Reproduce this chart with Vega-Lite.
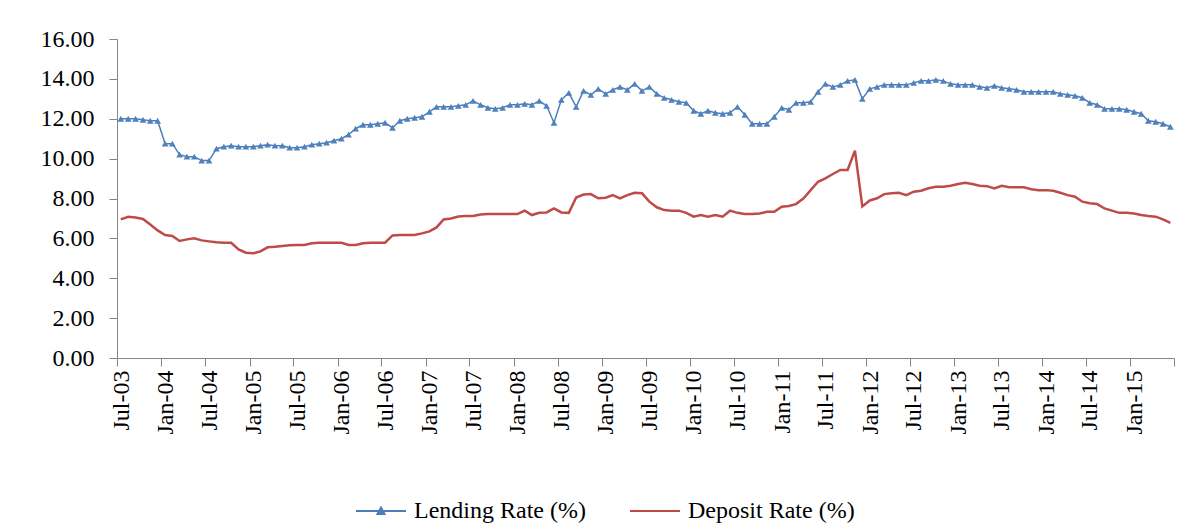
{
  "$schema": "https://vega.github.io/schema/vega-lite/v6.json",
  "width": 1057,
  "height": 319,
  "autosize": {"type": "none"},
  "padding": {"left": 117, "top": 39, "right": 17, "bottom": 173},
  "background": "white",
  "config": {
    "view": {"stroke": null},
    "font": "Liberation Serif",
    "axis": {
      "domainColor": "#868686",
      "tickColor": "#868686",
      "domainWidth": 1,
      "tickWidth": 1,
      "labelColor": "#000000",
      "labelFont": "Liberation Serif",
      "labelFontSize": 24,
      "grid": false,
      "title": null
    }
  },
  "data": {
    "values": [
      {"month": "2003-07", "lending": 12.00, "deposit": 6.95},
      {"month": "2003-08", "lending": 12.00, "deposit": 7.08},
      {"month": "2003-09", "lending": 12.00, "deposit": 7.05},
      {"month": "2003-10", "lending": 11.95, "deposit": 6.97},
      {"month": "2003-11", "lending": 11.90, "deposit": 6.70},
      {"month": "2003-12", "lending": 11.90, "deposit": 6.40},
      {"month": "2004-01", "lending": 10.75, "deposit": 6.17},
      {"month": "2004-02", "lending": 10.75, "deposit": 6.12},
      {"month": "2004-03", "lending": 10.20, "deposit": 5.87},
      {"month": "2004-04", "lending": 10.10, "deposit": 5.95},
      {"month": "2004-05", "lending": 10.10, "deposit": 6.00},
      {"month": "2004-06", "lending": 9.90, "deposit": 5.90},
      {"month": "2004-07", "lending": 9.90, "deposit": 5.85},
      {"month": "2004-08", "lending": 10.50, "deposit": 5.80},
      {"month": "2004-09", "lending": 10.60, "deposit": 5.78},
      {"month": "2004-10", "lending": 10.65, "deposit": 5.78},
      {"month": "2004-11", "lending": 10.60, "deposit": 5.45},
      {"month": "2004-12", "lending": 10.60, "deposit": 5.28},
      {"month": "2005-01", "lending": 10.60, "deposit": 5.25},
      {"month": "2005-02", "lending": 10.65, "deposit": 5.35},
      {"month": "2005-03", "lending": 10.70, "deposit": 5.55},
      {"month": "2005-04", "lending": 10.65, "deposit": 5.58},
      {"month": "2005-05", "lending": 10.65, "deposit": 5.62},
      {"month": "2005-06", "lending": 10.55, "deposit": 5.65},
      {"month": "2005-07", "lending": 10.55, "deposit": 5.67},
      {"month": "2005-08", "lending": 10.60, "deposit": 5.67},
      {"month": "2005-09", "lending": 10.70, "deposit": 5.75},
      {"month": "2005-10", "lending": 10.75, "deposit": 5.78},
      {"month": "2005-11", "lending": 10.80, "deposit": 5.78},
      {"month": "2005-12", "lending": 10.90, "deposit": 5.78},
      {"month": "2006-01", "lending": 11.00, "deposit": 5.78},
      {"month": "2006-02", "lending": 11.20, "deposit": 5.67},
      {"month": "2006-03", "lending": 11.50, "deposit": 5.67},
      {"month": "2006-04", "lending": 11.70, "deposit": 5.75},
      {"month": "2006-05", "lending": 11.70, "deposit": 5.78},
      {"month": "2006-06", "lending": 11.75, "deposit": 5.78},
      {"month": "2006-07", "lending": 11.80, "deposit": 5.78},
      {"month": "2006-08", "lending": 11.55, "deposit": 6.15},
      {"month": "2006-09", "lending": 11.90, "deposit": 6.17},
      {"month": "2006-10", "lending": 12.00, "deposit": 6.17},
      {"month": "2006-11", "lending": 12.05, "deposit": 6.17},
      {"month": "2006-12", "lending": 12.10, "deposit": 6.25},
      {"month": "2007-01", "lending": 12.35, "deposit": 6.35},
      {"month": "2007-02", "lending": 12.60, "deposit": 6.55},
      {"month": "2007-03", "lending": 12.60, "deposit": 6.95},
      {"month": "2007-04", "lending": 12.60, "deposit": 7.00},
      {"month": "2007-05", "lending": 12.65, "deposit": 7.10},
      {"month": "2007-06", "lending": 12.70, "deposit": 7.12},
      {"month": "2007-07", "lending": 12.90, "deposit": 7.12},
      {"month": "2007-08", "lending": 12.70, "deposit": 7.20},
      {"month": "2007-09", "lending": 12.55, "deposit": 7.22},
      {"month": "2007-10", "lending": 12.50, "deposit": 7.22},
      {"month": "2007-11", "lending": 12.55, "deposit": 7.22},
      {"month": "2007-12", "lending": 12.70, "deposit": 7.22},
      {"month": "2008-01", "lending": 12.70, "deposit": 7.22},
      {"month": "2008-02", "lending": 12.75, "deposit": 7.39},
      {"month": "2008-03", "lending": 12.70, "deposit": 7.17},
      {"month": "2008-04", "lending": 12.90, "deposit": 7.28},
      {"month": "2008-05", "lending": 12.65, "deposit": 7.30},
      {"month": "2008-06", "lending": 11.80, "deposit": 7.50},
      {"month": "2008-07", "lending": 12.95, "deposit": 7.30},
      {"month": "2008-08", "lending": 13.30, "deposit": 7.28},
      {"month": "2008-09", "lending": 12.60, "deposit": 8.05},
      {"month": "2008-10", "lending": 13.40, "deposit": 8.20},
      {"month": "2008-11", "lending": 13.20, "deposit": 8.22},
      {"month": "2008-12", "lending": 13.50, "deposit": 8.01},
      {"month": "2009-01", "lending": 13.25, "deposit": 8.04},
      {"month": "2009-02", "lending": 13.45, "deposit": 8.17},
      {"month": "2009-03", "lending": 13.60, "deposit": 8.01},
      {"month": "2009-04", "lending": 13.45, "deposit": 8.17},
      {"month": "2009-05", "lending": 13.75, "deposit": 8.29},
      {"month": "2009-06", "lending": 13.40, "deposit": 8.26},
      {"month": "2009-07", "lending": 13.60, "deposit": 7.84},
      {"month": "2009-08", "lending": 13.25, "deposit": 7.56},
      {"month": "2009-09", "lending": 13.05, "deposit": 7.42},
      {"month": "2009-10", "lending": 12.95, "deposit": 7.39},
      {"month": "2009-11", "lending": 12.85, "deposit": 7.39},
      {"month": "2009-12", "lending": 12.80, "deposit": 7.28},
      {"month": "2010-01", "lending": 12.40, "deposit": 7.09},
      {"month": "2010-02", "lending": 12.25, "deposit": 7.17},
      {"month": "2010-03", "lending": 12.40, "deposit": 7.09},
      {"month": "2010-04", "lending": 12.30, "deposit": 7.17},
      {"month": "2010-05", "lending": 12.25, "deposit": 7.09},
      {"month": "2010-06", "lending": 12.30, "deposit": 7.39},
      {"month": "2010-07", "lending": 12.60, "deposit": 7.28},
      {"month": "2010-08", "lending": 12.20, "deposit": 7.22},
      {"month": "2010-09", "lending": 11.75, "deposit": 7.22},
      {"month": "2010-10", "lending": 11.75, "deposit": 7.25},
      {"month": "2010-11", "lending": 11.75, "deposit": 7.33},
      {"month": "2010-12", "lending": 12.10, "deposit": 7.33},
      {"month": "2011-01", "lending": 12.55, "deposit": 7.59},
      {"month": "2011-02", "lending": 12.45, "deposit": 7.62},
      {"month": "2011-03", "lending": 12.80, "deposit": 7.72},
      {"month": "2011-04", "lending": 12.80, "deposit": 8.00},
      {"month": "2011-05", "lending": 12.85, "deposit": 8.42},
      {"month": "2011-06", "lending": 13.35, "deposit": 8.84},
      {"month": "2011-07", "lending": 13.75, "deposit": 9.01},
      {"month": "2011-08", "lending": 13.60, "deposit": 9.23},
      {"month": "2011-09", "lending": 13.70, "deposit": 9.43},
      {"month": "2011-10", "lending": 13.90, "deposit": 9.43},
      {"month": "2011-11", "lending": 13.95, "deposit": 10.40},
      {"month": "2011-12", "lending": 13.00, "deposit": 7.60},
      {"month": "2012-01", "lending": 13.50, "deposit": 7.90},
      {"month": "2012-02", "lending": 13.60, "deposit": 8.01},
      {"month": "2012-03", "lending": 13.70, "deposit": 8.22},
      {"month": "2012-04", "lending": 13.70, "deposit": 8.26},
      {"month": "2012-05", "lending": 13.70, "deposit": 8.29},
      {"month": "2012-06", "lending": 13.70, "deposit": 8.17},
      {"month": "2012-07", "lending": 13.80, "deposit": 8.34},
      {"month": "2012-08", "lending": 13.90, "deposit": 8.39},
      {"month": "2012-09", "lending": 13.90, "deposit": 8.51},
      {"month": "2012-10", "lending": 13.95, "deposit": 8.59},
      {"month": "2012-11", "lending": 13.90, "deposit": 8.59},
      {"month": "2012-12", "lending": 13.75, "deposit": 8.64},
      {"month": "2013-01", "lending": 13.70, "deposit": 8.73},
      {"month": "2013-02", "lending": 13.70, "deposit": 8.79},
      {"month": "2013-03", "lending": 13.70, "deposit": 8.73},
      {"month": "2013-04", "lending": 13.60, "deposit": 8.64},
      {"month": "2013-05", "lending": 13.55, "deposit": 8.62},
      {"month": "2013-06", "lending": 13.65, "deposit": 8.51},
      {"month": "2013-07", "lending": 13.55, "deposit": 8.64},
      {"month": "2013-08", "lending": 13.50, "deposit": 8.56},
      {"month": "2013-09", "lending": 13.45, "deposit": 8.56},
      {"month": "2013-10", "lending": 13.35, "deposit": 8.56},
      {"month": "2013-11", "lending": 13.35, "deposit": 8.46},
      {"month": "2013-12", "lending": 13.35, "deposit": 8.42},
      {"month": "2014-01", "lending": 13.35, "deposit": 8.42},
      {"month": "2014-02", "lending": 13.35, "deposit": 8.39},
      {"month": "2014-03", "lending": 13.25, "deposit": 8.29},
      {"month": "2014-04", "lending": 13.20, "deposit": 8.17},
      {"month": "2014-05", "lending": 13.15, "deposit": 8.09},
      {"month": "2014-06", "lending": 13.05, "deposit": 7.84},
      {"month": "2014-07", "lending": 12.80, "deposit": 7.76},
      {"month": "2014-08", "lending": 12.70, "deposit": 7.72},
      {"month": "2014-09", "lending": 12.50, "deposit": 7.50},
      {"month": "2014-10", "lending": 12.50, "deposit": 7.39},
      {"month": "2014-11", "lending": 12.50, "deposit": 7.28},
      {"month": "2014-12", "lending": 12.45, "deposit": 7.28},
      {"month": "2015-01", "lending": 12.35, "deposit": 7.25},
      {"month": "2015-02", "lending": 12.25, "deposit": 7.17},
      {"month": "2015-03", "lending": 11.90, "deposit": 7.12},
      {"month": "2015-04", "lending": 11.85, "deposit": 7.09},
      {"month": "2015-05", "lending": 11.75, "deposit": 6.95},
      {"month": "2015-06", "lending": 11.60, "deposit": 6.78}
    ]
  },
  "transform": [{"fold": ["lending", "deposit"], "as": ["series", "rate"]}],
  "encoding": {
    "x": {
      "field": "month",
      "type": "temporal",
      "timeUnit": "utcyearmonth",
      "bandPosition": 0.5,
      "scale": {
        "domain": [
          {"year": 2003, "month": 7, "date": 1, "utc": true},
          {"year": 2015, "month": 7, "date": 1, "utc": true}
        ]
      },
      "axis": {
        "title": null,
        "values": [
          {"year": 2003, "month": 7, "date": 1, "utc": true},
          {"year": 2004, "month": 1, "date": 1, "utc": true},
          {"year": 2004, "month": 7, "date": 1, "utc": true},
          {"year": 2005, "month": 1, "date": 1, "utc": true},
          {"year": 2005, "month": 7, "date": 1, "utc": true},
          {"year": 2006, "month": 1, "date": 1, "utc": true},
          {"year": 2006, "month": 7, "date": 1, "utc": true},
          {"year": 2007, "month": 1, "date": 1, "utc": true},
          {"year": 2007, "month": 7, "date": 1, "utc": true},
          {"year": 2008, "month": 1, "date": 1, "utc": true},
          {"year": 2008, "month": 7, "date": 1, "utc": true},
          {"year": 2009, "month": 1, "date": 1, "utc": true},
          {"year": 2009, "month": 7, "date": 1, "utc": true},
          {"year": 2010, "month": 1, "date": 1, "utc": true},
          {"year": 2010, "month": 7, "date": 1, "utc": true},
          {"year": 2011, "month": 1, "date": 1, "utc": true},
          {"year": 2011, "month": 7, "date": 1, "utc": true},
          {"year": 2012, "month": 1, "date": 1, "utc": true},
          {"year": 2012, "month": 7, "date": 1, "utc": true},
          {"year": 2013, "month": 1, "date": 1, "utc": true},
          {"year": 2013, "month": 7, "date": 1, "utc": true},
          {"year": 2014, "month": 1, "date": 1, "utc": true},
          {"year": 2014, "month": 7, "date": 1, "utc": true},
          {"year": 2015, "month": 1, "date": 1, "utc": true},
          {"year": 2015, "month": 7, "date": 1, "utc": true}
        ],
        "labelExpr": "utcyear(datum.value) == 2015 && utcmonth(datum.value) == 6 ? '' : utcFormat(datum.value, '%b-%y')",
        "labelAngle": -90,
        "labelAlign": "right",
        "labelBaseline": "middle",
        "labelOffset": 4,
        "labelPadding": 4,
        "tickSize": 8,
        "labelOverlap": false,
        "labelFlush": false,
        "labelBound": false
      }
    },
    "y": {
      "field": "rate",
      "type": "quantitative",
      "scale": {"domain": [0, 16], "nice": false, "zero": true},
      "axis": {
        "title": null,
        "values": [0, 2, 4, 6, 8, 10, 12, 14, 16],
        "format": ".2f",
        "tickSize": 8,
        "labelPadding": 15
      }
    }
  },
  "layer": [
    {
      "transform": [{"filter": "datum.series == 'deposit'"}],
      "mark": {"type": "line", "color": "#BE4B48", "strokeWidth": 2.5}
    },
    {
      "transform": [{"filter": "datum.series == 'lending'"}],
      "mark": {"type": "line", "color": "#4A7EBB", "strokeWidth": 1.5}
    },
    {
      "transform": [{"filter": "datum.series == 'lending'"}],
      "mark": {"type": "point", "shape": "triangle-up", "filled": true, "color": "#4F81BD", "size": 45, "opacity": 1}
    },
    {
      "mark": {"type": "point", "filled": true, "opacity": 0},
      "encoding": {
        "shape": {
          "field": "series",
          "type": "nominal",
          "scale": {
            "domain": ["lending", "deposit"],
            "range": ["M-1,0L1,0M-0.14,0.12L0,-0.14L0.14,0.12Z", "M-1,0L1,0"]
          },
          "legend": {
            "title": null,
            "orient": "none",
            "legendX": 238,
            "legendY": 446,
            "direction": "horizontal",
            "padding": 0,
            "symbolSize": 2500,
            "symbolOpacity": 1,
            "symbolStrokeWidth": 2,
            "labelFont": "Liberation Serif",
            "labelFontSize": 24,
            "labelColor": "#000000",
            "labelOffset": 7,
            "columnPadding": 40,
            "labelLimit": 400,
            "labelExpr": "datum.label == 'lending' ? 'Lending Rate (%)' : 'Deposit Rate (%)'"
          }
        },
        "fill": {
          "field": "series",
          "type": "nominal",
          "scale": {"domain": ["lending", "deposit"], "range": ["#4F81BD", "#BE4B48"]},
          "legend": {"title": null}
        },
        "stroke": {
          "field": "series",
          "type": "nominal",
          "scale": {"domain": ["lending", "deposit"], "range": ["#4A7EBB", "#BE4B48"]},
          "legend": {"title": null}
        }
      }
    }
  ]
}
